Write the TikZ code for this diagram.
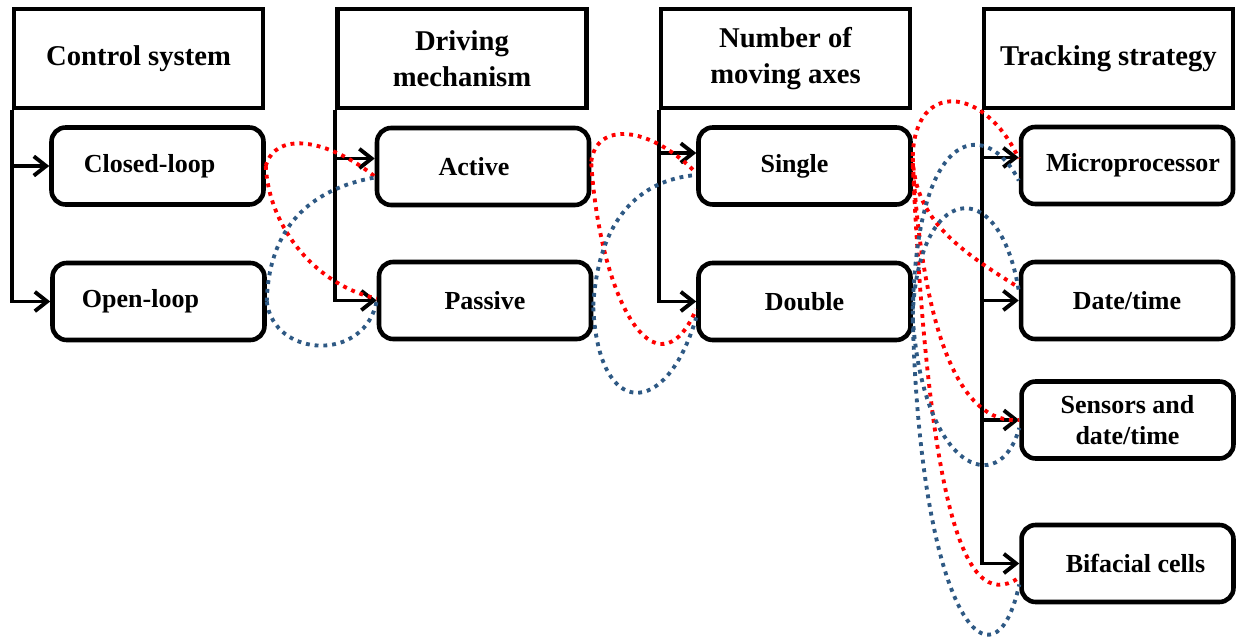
\documentclass[tikz,border=0pt]{standalone}
\usepackage{fontspec}
\setmainfont{Liberation Serif}
\usetikzlibrary{arrows.meta,calc}
\definecolor{rojo}{RGB}{255,0,0}
\definecolor{azul}{RGB}{46,89,132}
\begin{document}
\begin{tikzpicture}[x=0.02cm,y=0.02cm,>={Straight Barb[length=7pt,width=11pt]},
  cabeza/.style={draw,line width=2.6pt,minimum width=4.98cm,minimum height=1.98cm,
    align=center,font=\bfseries\fontsize{16.3}{20.5}\selectfont},
  opcion/.style={draw,line width=2.6pt,rounded corners=8pt,minimum width=4.24cm,
    minimum height=1.54cm,align=center,font=\bfseries\fontsize{14.8}{17.6}\selectfont},
  rama/.style={->,line width=2.2pt},
  enlace/.style={line width=2.2pt,dash pattern=on 2.2pt off 2.8pt}]
  \useasboundingbox (0,0) rectangle (1240,-641);
  % cabeceras
  \node[cabeza] (h1) at (138.5,-58.5) {Control system};
  \node[cabeza] (h2) at (462,-58.5) {Driving\\mechanism};
  \node[cabeza] (h3) at (785.5,-58.5) {Number of\\moving axes};
  \node[cabeza] (h4) at (1108.5,-58.5) {Tracking strategy};
  % opciones
  \node[opcion] (cl) at (157.5,-166) {Closed-loop\hspace*{0.32cm}};
  \node[opcion] (ol) at (158.5,-301.5) {Open-loop\hspace*{0.72cm}};
  \node[opcion] (ac) at (483,-166.5) {Active\hspace*{0.36cm}};
  \node[opcion] (pa) at (485,-300.5) {Passive};
  \node[opcion] (si) at (804.5,-166) {Single\hspace*{0.4cm}};
  \node[opcion] (db) at (804.5,-301.5) {Double};
  \node[opcion] (mp) at (1127,-165.5) {\hspace*{0.24cm}Microprocessor};
  \node[opcion] (dt) at (1127,-300.5) {Date/time};
  \node[opcion] (sd) at (1127.5,-420) {Sensors and\\date/time};
  \node[opcion] (bf) at (1127.5,-563.5) {\hspace*{0.32cm}Bifacial cells};
  % ramas
  \coordinate (ac-in) at ($(ac.west)+(0,8)$);
  \coordinate (si-in) at ($(si.west)+(0,13)$);
  \coordinate (mp-in) at ($(mp.west)+(0,8)$);
  \draw[rama] (h1.south west) |- (ol.west);
  \draw[rama] (h1.south west |- cl.west) -- (cl.west);
  \draw[rama] (h2.south west) |- (pa.west);
  \draw[rama] (h2.south west |- ac-in) -- (ac-in);
  \draw[rama] (h3.south west) |- (db.west);
  \draw[rama] (h3.south west |- si-in) -- (si-in);
  \draw[rama] (h4.south west) |- (bf.west);
  \draw[rama] (h4.south west |- mp-in) -- (mp-in);
  \draw[rama] (h4.south west |- dt.west) -- (dt.west);
  \draw[rama] (h4.south west |- sd.west) -- (sd.west);
  % control -> mecanismo
  \draw[enlace,rojo] (cl.east) .. controls +(10,36) and +(-46,37) .. ($(ac.west)+(0,-10)$);
  \draw[enlace,rojo] (cl.east) .. controls +(3,-62) and +(-60,13) .. ($(pa.west)+(0,2)$);
  \draw[enlace,azul] (ol.east) .. controls +(2,73) and +(-66,-12) .. ($(ac.west)+(0,-11)$);
  \draw[enlace,azul] (ol.east) .. controls +(7,-57) and +(-11,-62) .. (pa.west);
  % mecanismo -> ejes
  \draw[enlace,rojo] ($(ac.east)+(0,5)$) .. controls +(5,40) and +(-47,48) .. ($(si.west)+(0,-7)$);
  \draw[enlace,rojo] ($(ac.east)+(0,3)$) .. controls +(9,-137) and +(-40,-90) .. ($(db.west)+(0,-8)$);
  \draw[enlace,azul] ($(pa.east)+(0,-5)$) .. controls +(5,85) and +(-58,-5) .. ($(si.west)+(0,-9)$);
  \draw[enlace,azul] ($(pa.east)+(0,-7)$) .. controls +(5,-112) and +(-30,-102) .. ($(db.west)+(0,-16)$);
  % ejes -> estrategia
  \draw[enlace,rojo] ($(si.east)+(0,10)$) .. controls +(2,76) and +(-34,73) .. ($(mp.west)+(0,7)$);
  \draw[enlace,rojo] ($(si.east)+(0,8)$) .. controls +(2,-62) and +(-59,37) .. ($(dt.west)+(0,13)$);
  \draw[enlace,rojo] ($(si.east)+(0,3)$) .. controls +(10,-167) and +(-60,-5) .. (sd.west);
  \draw[enlace,rojo] ($(si.east)+(0,1)$) .. controls +(15,-315) and +(-60,-42) .. ($(bf.west)+(0,-14)$);
  \draw[enlace,azul] ($(db.east)+(0,-8)$) .. controls +(5,190) and +(-30,60) .. ($(mp.west)+(0,-15)$);
  \draw[enlace,azul] ($(db.east)+(0,-13)$) .. controls +(5,130) and +(-20,120) .. ($(dt.west)+(0,10)$);
  \draw[enlace,azul] ($(db.east)+(0,-16)$) .. controls +(10,-152) and +(-20,-72) .. ($(sd.west)+(0,-8)$);
  \draw[enlace,azul] ($(db.east)+(0,-18)$) .. controls +(8,-300) and +(-25,-115) .. ($(bf.west)+(0,-21)$);
\end{tikzpicture}
\end{document}
